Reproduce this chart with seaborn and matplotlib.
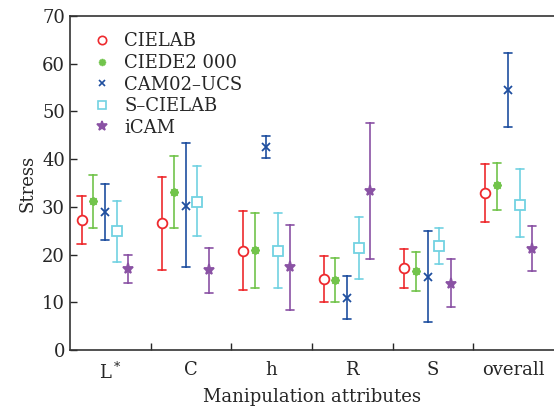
import matplotlib
matplotlib.use("Agg")
import matplotlib.pyplot as plt
from matplotlib.lines import Line2D
import numpy as np
import pandas as pd
import seaborn as sns

# groups and methods
attributes = ['L$^*$', 'C', 'h', 'R', 'S', 'overall']
methods = ['CIELAB', 'CIEDE2 000', 'CAM02\u2013UCS', 'S\u2013CIELAB', 'iCAM']

# mean stress per method, one value per attribute
stress = {
    'CIELAB':     [27.3, 26.6, 20.8, 15.0, 17.2, 33.0],
    'CIEDE2 000': [31.2, 33.2, 21.0, 14.6, 16.5, 34.5],
    'CAM02\u2013UCS': [29.0, 30.3, 42.5, 11.0, 15.3, 54.6],
    'S\u2013CIELAB': [25.0, 31.0, 20.8, 21.3, 21.8, 30.4],
    'iCAM':       [17.0, 16.8, 17.5, 33.3, 13.8, 21.2],
}
# lower and upper ends of the error bars
low = {
    'CIELAB':     [22.3, 16.7, 12.7, 10.0, 13.0, 26.8],
    'CIEDE2 000': [25.5, 25.6, 13.0, 10.0, 12.3, 29.3],
    'CAM02\u2013UCS': [23.0, 17.5, 40.2, 6.5, 6.0, 46.8],
    'S\u2013CIELAB': [18.5, 24.0, 13.0, 14.9, 18.0, 23.8],
    'iCAM':       [14.0, 12.0, 8.4, 19.0, 9.0, 16.5],
}
high = {
    'CIELAB':     [32.3, 36.3, 29.2, 19.7, 21.2, 39.0],
    'CIEDE2 000': [36.6, 40.6, 28.8, 19.3, 20.6, 39.3],
    'CAM02\u2013UCS': [34.8, 43.3, 44.9, 15.5, 25.0, 62.2],
    'S\u2013CIELAB': [31.2, 38.6, 28.7, 27.8, 25.5, 38.0],
    'iCAM':       [20.0, 21.5, 26.3, 47.5, 19.0, 26.0],
}

colors = ['#ee2a2e', '#72c44c', '#1f4f9f', '#72d2e2', '#8a52a4']
markers = ['o', (8, 1, 0), 'x', 's', '*']
msizes = [7, 6, 6, 7, 8]
open_marker = [True, False, False, True, False]

# median of (low, mean, high) gives the mean; min/max give the bar ends
rows = []
for m in methods:
    for i, a in enumerate(attributes):
        for v in (low[m][i], stress[m][i], high[m][i]):
            rows.append({'attr': a, 'method': m, 'Stress': v})
df = pd.DataFrame(rows)

sns.set_style("ticks")
plt.rcParams['font.family'] = ['DejaVu Serif']
plt.rcParams['mathtext.fontset'] = 'dejavuserif'

fig = plt.figure(figsize=(5.54, 4.11), dpi=100)
ax = fig.add_axes([0.126, 0.148, 0.874, 0.813])

sns.pointplot(data=df, x='attr', y='Stress', hue='method', order=attributes,
              hue_order=methods, palette=colors, markers=markers,
              linestyles='none', estimator=np.median,
              errorbar=lambda x: (x.min(), x.max()),
              dodge=0.58, capsize=0.1, err_kws={'linewidth': 1.2},
              markersize=6, markeredgewidth=1.3, ax=ax)

# fix marker sizes and open faces
for line in ax.lines:
    mk = line.get_marker()
    for j, m in enumerate(markers):
        if mk == m or (isinstance(m, tuple) and not isinstance(mk, str)):
            line.set_markersize(msizes[j])
            if open_marker[j]:
                line.set_markerfacecolor('white')
            line.set_zorder(5)
            break

if ax.get_legend() is not None:
    ax.get_legend().remove()
handles = [Line2D([], [], linestyle='none', marker=mk, color=c,
                  markerfacecolor='none' if op else c, markersize=ms - 1,
                  markeredgewidth=1.2)
           for mk, c, op, ms in zip(markers, colors, open_marker, msizes)]
ax.legend(handles, methods, loc='upper left', frameon=False,
          bbox_to_anchor=(0.015, 1.0), fontsize=13, handlelength=1.0,
          handletextpad=0.7, labelspacing=0.2)

shift = 0.065
ax.set_xlim(-0.5 + shift, 5.5 + shift)
ax.set_ylim(0, 70)
ax.set_xticks(np.arange(6) + shift)
ax.set_xticklabels(attributes)
ax.set_xticks(np.arange(5) + 0.5 + shift, minor=True)
ax.tick_params(axis='x', which='major', length=0, labelsize=13, pad=8)
ax.tick_params(axis='x', which='minor', direction='in', length=5, width=1)
ax.tick_params(axis='y', direction='in', length=5, width=1, labelsize=13)
ax.set_yticks(range(0, 71, 10))
ax.set_xlabel('Manipulation attributes', fontsize=13)
ax.set_ylabel('Stress', fontsize=13)
for s in ['left', 'bottom', 'top']:
    ax.spines[s].set_linewidth(1.2)
    ax.spines[s].set_color('#333333')
ax.spines['right'].set_visible(False)

fig.savefig('out.png', dpi=100)
